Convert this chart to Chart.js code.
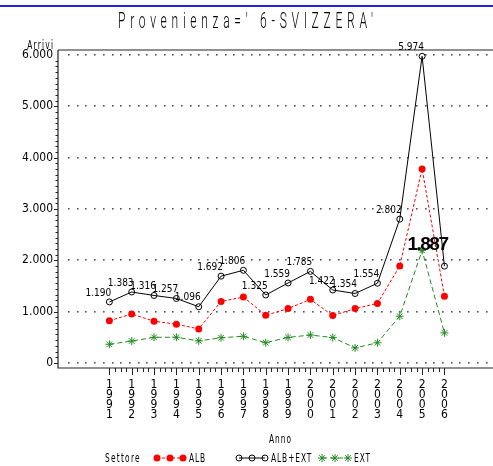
<!DOCTYPE html>
<html>
<head>
<meta charset="utf-8">
<script src="https://cdn.jsdelivr.net/npm/chart.js@4/dist/chart.umd.min.js"></script>
<style>
  html, body { margin: 0; padding: 0; background: #fff; }
</style>
</head>
<body>
<canvas id="chart" width="493" height="466"></canvas>
<script>
// Anni (asse x)
const years = [1991, 1992, 1993, 1994, 1995, 1996, 1997, 1998, 1999, 2000, 2001, 2002, 2003, 2004, 2005, 2006];
// Arrivi per settore
const alb = [824, 955, 815, 755, 665, 1200, 1285, 930, 1060, 1240, 925, 1060, 1160, 1890, 3780, 1300];
const ext = [366, 428, 501, 502, 431, 492, 521, 395, 499, 545, 497, 294, 394, 912, 2194, 587];
const albExt = [1190, 1383, 1316, 1257, 1096, 1692, 1806, 1325, 1559, 1785, 1422, 1354, 1554, 2802, 5974, 1887];
// Tick asse y
const yTicks = [0, 1000, 2000, 3000, 4000, 5000, 6000];

const titleText = "Provenienza=' 6-SVIZZERA'";
const narrow = "'DejaVu Sans Condensed', 'Liberation Sans Narrow', sans-serif";

// formato italiano 1.190
const fmt = (v) => String(v).replace(/\B(?=(\d{3})+(?!\d))/g, ".");

const RED = "#ff0000";
const GREEN = "#228b22";

// testo stretto tipo SAS: font schiacciato in orizzontale
function slimText(ctx, text, x, y, size, sx, spacing, align) {
  ctx.save();
  ctx.font = size + "px 'DejaVu Sans'";
  ctx.letterSpacing = spacing + "px";
  ctx.textBaseline = "middle";
  ctx.textAlign = "left";
  const w = (ctx.measureText(text).width - spacing) * sx;
  let left = x;
  if (align === "center") left = x - w / 2;
  if (align === "right") left = x - w;
  ctx.translate(left, y);
  ctx.scale(sx, 1);
  ctx.fillText(text, 0, 0);
  ctx.restore();
}

/* Plugin: cornice, griglia puntinata, tacche, etichette, titolo e legenda */
const sasPlugin = {
  id: "sas",
  beforeDatasetsDraw(chart) {
    const ctx = chart.ctx;
    const a = chart.chartArea;
    const xs = chart.scales.x;
    const ys = chart.scales.y;
    ctx.save();
    // griglia puntinata
    ctx.fillStyle = "#555";
    yTicks.forEach((v) => {
      const y = Math.round(ys.getPixelForValue(v));
      for (let x = a.left + 10; x < chart.width - 2; x += 8.7) {
        ctx.fillRect(Math.round(x), y - 1, 1.6, 1.6);
      }
    });
    // assi
    ctx.strokeStyle = "#222";
    ctx.lineWidth = 1.2;
    ctx.beginPath();
    ctx.moveTo(a.left, a.top);
    ctx.lineTo(chart.width, a.top);
    ctx.moveTo(a.left, a.top);
    ctx.lineTo(a.left, a.bottom);
    ctx.lineTo(chart.width, a.bottom);
    ctx.stroke();
    // tacche y
    ctx.lineWidth = 1;
    ctx.beginPath();
    for (let v = 0; v <= 6000; v += 1000 / 9) {
      const y = Math.round(ys.getPixelForValue(v)) + 0.5;
      const major = Math.abs(v / 1000 - Math.round(v / 1000)) < 0.001;
      ctx.moveTo(a.left, y);
      ctx.lineTo(a.left - (major ? 4 : 2.5), y);
    }
    // tacche x
    for (let i = 0; i < years.length; i++) {
      const x = Math.round(xs.getPixelForValue(years[i])) + 0.5;
      ctx.moveTo(x, a.bottom);
      ctx.lineTo(x, a.bottom + 7);
      if (i < years.length - 1) {
        for (let k = 1; k < 4; k++) {
          const xm = Math.round(xs.getPixelForValue(years[i] + k / 4)) + 0.5;
          ctx.moveTo(xm, a.bottom);
          ctx.lineTo(xm, a.bottom + 4);
        }
      }
    }
    ctx.stroke();
    ctx.restore();
  },
  afterDatasetsDraw(chart) {
    const ctx = chart.ctx;
    const meta = chart.getDatasetMeta(1);
    ctx.save();
    ctx.fillStyle = "#000";
    ctx.textAlign = "center";
    ctx.textBaseline = "middle";
    meta.data.forEach((pt, i) => {
      if (i === albExt.length - 1) {
        ctx.font = "bold 19px 'Liberation Sans', Arial, sans-serif";
        ctx.letterSpacing = "-1.5px";
        ctx.fillText(fmt(albExt[i]), pt.x - 17, pt.y - 21);
        ctx.letterSpacing = "0px";
      } else {
        ctx.font = "10px 'Liberation Sans Narrow', 'DejaVu Sans Condensed', sans-serif";
        ctx.fillText(fmt(albExt[i]), pt.x - 11, pt.y - 9);
      }
    });
    ctx.restore();
  },
  afterDraw(chart) {
    const ctx = chart.ctx;
    const a = chart.chartArea;
    ctx.save();
    // riga blu in alto
    ctx.strokeStyle = "#2323e0";
    ctx.lineWidth = 2;
    ctx.beginPath();
    ctx.moveTo(0, 6);
    ctx.lineTo(chart.width, 6);
    ctx.stroke();

    ctx.fillStyle = "#000";

    // titolo: lettere sottili e spaziate
    ctx.save();
    ctx.font = "300 22px Roboto, 'DejaVu Sans', sans-serif";
    ctx.textBaseline = "middle";
    const sx = 0.55;
    const w0 = ctx.measureText(titleText).width;
    const sp = (255 / sx - w0) / (titleText.length - 1);
    ctx.letterSpacing = sp + "px";
    ctx.translate(118, 22);
    ctx.scale(sx, 1);
    ctx.fillText(titleText, 0, 0);
    ctx.restore();

    // Arrivi
    slimText(ctx, "Arrivi", a.left - 5, 46, 12, 0.62, 2, "right");
    // Anno
    slimText(ctx, "Anno", 280, 440, 12, 0.62, 1.5, "center");

    // legenda
    slimText(ctx, "Settore", 105, 459, 12, 0.62, 2, "left");
    const items = [
      { ds: chart.data.datasets[0], x: 157 },
      { ds: chart.data.datasets[1], x: 239 },
      { ds: chart.data.datasets[2], x: 322 },
    ];
    items.forEach((it) => {
      const ds = it.ds;
      const y = 458;
      ctx.save();
      ctx.strokeStyle = ds.borderColor;
      ctx.lineWidth = 1;
      ctx.setLineDash(ds.borderDash || []);
      ctx.beginPath();
      ctx.moveTo(it.x, y);
      ctx.lineTo(it.x + 26, y);
      ctx.stroke();
      ctx.setLineDash([]);
      ctx.fillStyle = ds.pointBackgroundColor;
      ctx.strokeStyle = ds.borderColor;
      ctx.lineWidth = ds.pointBorderWidth;
      for (let k = 0; k < 3; k++) {
        Chart.helpers.drawPoint(ctx, {
          pointStyle: ds.pointStyle,
          radius: ds.pointRadius,
          rotation: 0,
          borderWidth: ds.pointBorderWidth,
        }, it.x + k * 13, y);
      }
      ctx.restore();
      ctx.fillStyle = "#000";
      slimText(ctx, ds.label, it.x + 32, 459, 12, 0.62, 1.5, "left");
    });
    ctx.restore();
  },
};

const toPoints = (arr) => years.map((y, i) => ({ x: y, y: arr[i] }));

new Chart(document.getElementById("chart"), {
  type: "line",
  data: {
    datasets: [
      {
        label: "ALB",
        data: toPoints(alb),
        borderColor: RED,
        backgroundColor: RED,
        pointBackgroundColor: RED,
        borderWidth: 1,
        borderDash: [3, 2],
        pointStyle: "circle",
        pointRadius: 3.5,
        pointBorderWidth: 0,
        tension: 0,
      },
      {
        label: "ALB+EXT",
        data: toPoints(albExt),
        borderColor: "#000",
        backgroundColor: "rgba(0,0,0,0)",
        pointBackgroundColor: "rgba(0,0,0,0)",
        borderWidth: 1,
        pointStyle: "circle",
        pointRadius: 3,
        pointBorderWidth: 1,
        tension: 0,
      },
      {
        label: "EXT",
        data: toPoints(ext),
        borderColor: GREEN,
        backgroundColor: GREEN,
        pointBackgroundColor: GREEN,
        borderWidth: 1,
        borderDash: [5, 3],
        pointStyle: "star",
        pointRadius: 4,
        pointBorderWidth: 1,
        tension: 0,
      },
    ],
  },
  options: {
    responsive: false,
    animation: false,
    devicePixelRatio: 1,
    layout: { padding: { top: 50, left: 0, right: 0, bottom: 0 } },
    plugins: {
      legend: { display: false },
      title: { display: false },
      tooltip: { enabled: false },
    },
    scales: {
      x: {
        type: "linear",
        min: 1988.7,
        max: 2007.95,
        grid: { display: false, drawTicks: false },
        border: { display: false },
        afterBuildTicks: (s) => { s.ticks = years.map((v) => ({ value: v })); },
        afterFit: (s) => { s.height = 98; },
        ticks: {
          autoSkip: false,
          maxRotation: 0,
          minRotation: 0,
          padding: 12,
          color: "#000",
          font: { family: narrow, size: 12, lineHeight: "10px" },
          callback: (v) => String(v).split(""),
        },
      },
      y: {
        min: -97,
        max: 6097,
        grid: { display: false, drawTicks: false },
        border: { display: false },
        afterBuildTicks: (s) => { s.ticks = yTicks.map((v) => ({ value: v })); },
        afterFit: (s) => { s.width = 58; },
        ticks: {
          padding: 5,
          color: "#000",
          font: { family: narrow, size: 12 },
          callback: (v) => fmt(v),
        },
      },
    },
  },
  plugins: [sasPlugin],
});
</script>
</body>
</html>
